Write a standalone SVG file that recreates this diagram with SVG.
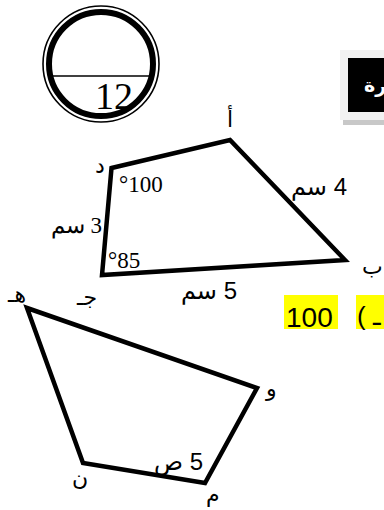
<svg xmlns="http://www.w3.org/2000/svg" width="384" height="510" viewBox="0 0 384 510">
<style>
.shape{fill:none;stroke:#000;stroke-width:4.5;stroke-linejoin:miter}
.ar{font-family:"DejaVu Sans","Liberation Sans",sans-serif;font-size:22px;fill:#000}
.sans{font-family:"Liberation Sans","DejaVu Sans",sans-serif;font-size:24px;fill:#000}
.serif{font-family:"Liberation Serif","DejaVu Serif",serif;font-size:23px;fill:#000}
</style>
<rect width="384" height="510" fill="#fff"/>
<g id="badge">
  <circle cx="101" cy="64" r="58" fill="none" stroke="#000" stroke-width="1.6"/>
  <circle cx="101" cy="64" r="52" fill="none" stroke="#000" stroke-width="6"/>
  <line x1="51" y1="76" x2="151" y2="76" stroke="#000" stroke-width="1.5"/>
  <text x="114" y="109" text-anchor="middle" style="font-family:'Liberation Serif',serif;font-size:38px">12</text>
</g>
<g id="title">
  <rect x="340" y="50" width="44" height="70" fill="#f2f2f2"/>
  <rect x="343" y="120" width="41" height="5" fill="#c8c8c8"/>
  <rect x="348" y="58" width="36" height="54" fill="#000"/>
  <text x="364" y="92" style="font-family:'DejaVu Sans',sans-serif;font-size:19px;font-weight:bold;fill:#fff">رة</text>
</g>
<g id="quad1">
  <polygon class="shape" points="111.5,168 230,140 345,260 102,275"/>
  <text class="ar" x="227" y="127">أ</text>
  <text class="ar" x="95" y="173">د</text>
  <text class="ar" x="362" y="274">ب</text>
  <text class="ar" x="77" y="305">جـ</text>
  <text class="serif" x="119" y="192">°100</text>
  <text class="serif" x="108" y="268">°85</text>
  <text class="serif" x="102" y="233" direction="rtl" text-anchor="start">3 سم</text>
  <text class="sans" x="347" y="195" direction="rtl" text-anchor="start">4 سم</text>
  <text class="sans" x="237" y="299" direction="rtl" text-anchor="start">5 سم</text>
</g>
<g id="quad2">
  <polygon class="shape" points="27,308 257,388 205,483 83,463"/>
  <text class="ar" x="8" y="302">هـ</text>
  <text class="ar" x="266" y="396">و</text>
  <text class="ar" x="72" y="485">ن</text>
  <text class="ar" x="206" y="502">م</text>
  <text class="sans" x="203" y="470" direction="rtl" text-anchor="start">5 ص</text>
</g>
<g id="answer">
  <rect x="284" y="295" width="54" height="34" fill="#ffff00"/>
  <rect x="356" y="295" width="28" height="34" fill="#ffff00"/>
  <text x="286" y="327" style="font-family:'Liberation Sans',sans-serif;font-size:28px">100</text>
  <text x="357" y="325" style="font-family:'Liberation Sans','DejaVu Sans',sans-serif;font-size:26px">( ـ</text>
</g>
</svg>
